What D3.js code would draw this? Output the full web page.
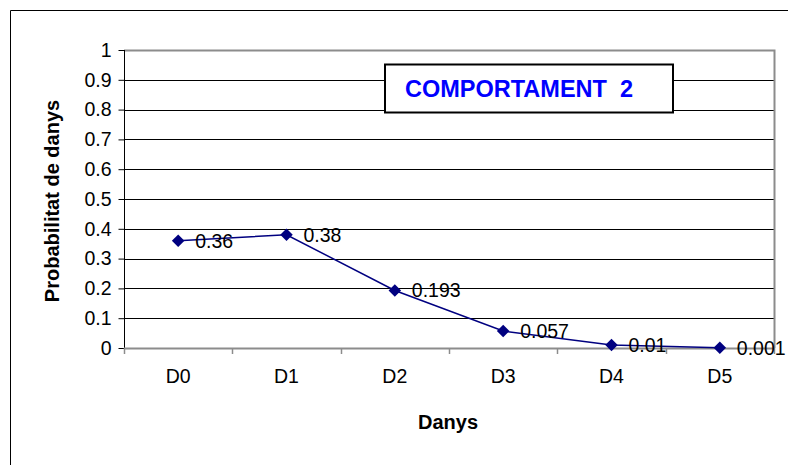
<!DOCTYPE html>
<html>
<head>
<meta charset="utf-8">
<script src="https://cdn.jsdelivr.net/npm/d3@7"></script>
<style>
  body { margin: 0; background: #fff; }
  text { font-family: Arial, "Liberation Sans", sans-serif; }
</style>
</head>
<body>
<svg width="788" height="465"></svg>
<script>
var categories = ["D0", "D1", "D2", "D3", "D4", "D5"];
var values = [0.36, 0.38, 0.193, 0.057, 0.01, 0.001];
var labels = ["0.36", "0.38", "0.193", "0.057", "0.01", "0.001"];
var yTicks = [0, 0.1, 0.2, 0.3, 0.4, 0.5, 0.6, 0.7, 0.8, 0.9, 1];

var svg = d3.select("svg");
var plotL = 124, plotR = 774, plotT = 50, plotB = 348;

// outer chart frame (only top and left show)
svg.append("path")
  .attr("d", "M10.5,465 L10.5,10.5 L788,10.5")
  .attr("fill", "none").attr("stroke", "#000").attr("stroke-width", 1);

var x = d3.scaleBand().domain(categories).range([plotL, plotR]).padding(0);
var y = d3.scaleLinear().domain([0, 1]).range([plotB, plotT]);

// grid lines
svg.append("g").selectAll("line")
  .data(yTicks.filter(function(d) { return d > 0 && d < 1; }))
  .enter().append("line")
  .attr("x1", plotL).attr("x2", plotR)
  .attr("y1", function(d) { return Math.round(y(d)) + 0.5; })
  .attr("y2", function(d) { return Math.round(y(d)) + 0.5; })
  .attr("stroke", "#000");

// plot border top/right grey
svg.append("path")
  .attr("d", "M" + plotL + "," + (plotT + 0.5) + " L" + (plotR + 0.5) + "," + (plotT + 0.5) + " L" + (plotR + 0.5) + "," + plotB)
  .attr("fill", "none").attr("stroke", "#8c8c8c").attr("stroke-width", 2);

// y axis
var yAxis = d3.axisLeft(y).tickValues(yTicks).tickSize(6).tickPadding(7)
  .tickFormat(function(d) { return String(+d.toFixed(1)); });
var gy = svg.append("g").attr("transform", "translate(" + (plotL + 0.5) + ",0)").call(yAxis);
gy.select(".domain").attr("stroke", "#000").attr("d", "M0," + plotT + "V" + plotB);
gy.selectAll(".tick line").attr("stroke", "#000");
gy.selectAll(".tick text").attr("font-size", 19.5).attr("fill", "#000")
  .attr("font-family", "Arial, 'Liberation Sans', sans-serif");

// x axis: ticks at category boundaries
svg.append("line")
  .attr("x1", plotL).attr("x2", plotR + 1)
  .attr("y1", plotB + 0.5).attr("y2", plotB + 0.5)
  .attr("stroke", "#8c8c8c").attr("stroke-width", 2);
var bounds = categories.map(function(c) { return x(c); }).concat([plotR]);
svg.append("g").selectAll("line").data(bounds).enter().append("line")
  .attr("x1", function(d) { return Math.round(d) + 0.5; })
  .attr("x2", function(d) { return Math.round(d) + 0.5; })
  .attr("y1", plotB).attr("y2", plotB + 6)
  .attr("stroke", "#8c8c8c").attr("stroke-width", 1.5);
svg.append("g").selectAll("text").data(categories).enter().append("text")
  .attr("x", function(d) { return x(d) + x.bandwidth() / 2; })
  .attr("y", 383)
  .attr("text-anchor", "middle")
  .attr("font-size", 19.5)
  .text(function(d) { return d; });

// line
var cx = function(i) { return x(categories[i]) + x.bandwidth() / 2; };
var line = d3.line()
  .x(function(d, i) { return cx(i); })
  .y(function(d) { return y(d); });
svg.append("path").datum(values)
  .attr("d", line)
  .attr("fill", "none").attr("stroke", "#000080").attr("stroke-width", 1.5);

// markers
svg.append("g").selectAll("path").data(values).enter().append("path")
  .attr("d", d3.symbol().type(d3.symbolDiamond2).size(100))
  .attr("transform", function(d, i) { return "translate(" + cx(i) + "," + y(d) + ")"; })
  .attr("fill", "#000080");

// value labels
svg.append("g").selectAll("text").data(values).enter().append("text")
  .attr("x", function(d, i) { return cx(i) + 17; })
  .attr("y", function(d) { return y(d) + 7; })
  .attr("font-size", 19.5)
  .text(function(d, i) { return labels[i]; });

// title box
svg.append("rect")
  .attr("x", 385).attr("y", 64.5).attr("width", 288).attr("height", 48)
  .attr("fill", "#fff").attr("stroke", "#000").attr("stroke-width", 2);
svg.append("text")
  .attr("x", 405).attr("y", 97)
  .attr("font-size", 23.5).attr("font-weight", "bold").attr("fill", "#0000ff")
  .attr("xml:space", "preserve")
  .text("COMPORTAMENT  2");

// axis titles
svg.append("text")
  .attr("transform", "translate(59,201) rotate(-90)")
  .attr("text-anchor", "middle")
  .attr("font-size", 20).attr("font-weight", "bold")
  .text("Probabilitat de danys");
svg.append("text")
  .attr("x", 448).attr("y", 429)
  .attr("text-anchor", "middle")
  .attr("font-size", 20).attr("font-weight", "bold")
  .text("Danys");
</script>
</body>
</html>
